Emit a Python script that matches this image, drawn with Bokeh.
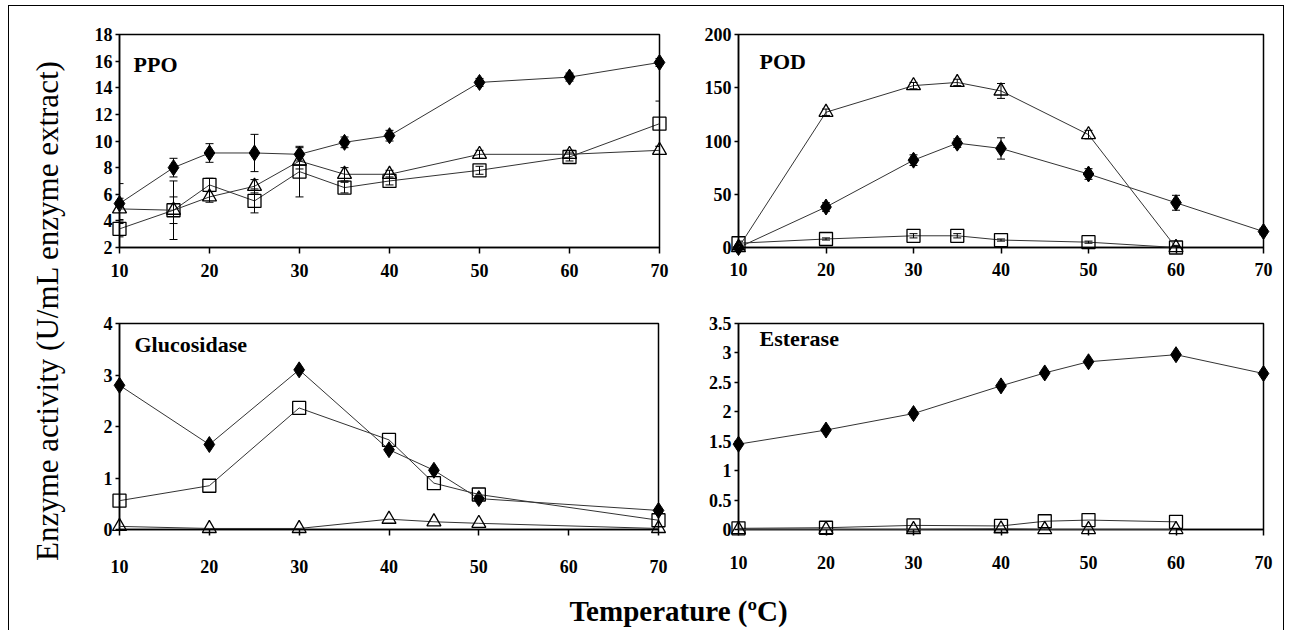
from bokeh.plotting import figure
from bokeh.models import Range1d, FixedTicker, Label, Whisker, ColumnDataSource, TeeHead
from bokeh.layouts import row, column
from bokeh.embed import file_html
from bokeh.resources import INLINE

# ---------------- data ----------------
x_ticks = [10, 20, 30, 40, 50, 60, 70]
x_tick_labels = ["10", "20", "30", "40", "50", "60", "70"]

# PPO
ppo_temp = [10, 16, 20, 25, 30, 35, 40, 50, 60, 70]
ppo_diamond = [5.3, 8.0, 9.1, 9.1, 9.0, 9.9, 10.4, 14.4, 14.8, 15.9]
ppo_diamond_err = [1.5, 0.7, 0.7, 1.4, 0.5, 0.4, 0.4, 0.3, 0.3, 0.3]
ppo_square = [3.4, 4.8, 6.7, 5.5, 7.7, 6.5, 7.0, 7.8, 8.8, 11.3]
ppo_square_err = [0.6, 2.2, 0.5, 0.9, 1.9, 0.4, 0.3, 0.3, 0.3, 1.7]
ppo_triangle = [4.9, 4.8, 5.8, 6.6, 8.5, 7.5, 7.5, 9.0, 9.0, 9.3]
ppo_triangle_err = [0.8, 1.0, 0.4, 0.5, 0.6, 0.5, 0.3, 0.3, 0.3, 0.3]
ppo_yticks = [2, 4, 6, 8, 10, 12, 14, 16, 18]
ppo_ylabels = ["2", "4", "6", "8", "10", "12", "14", "16", "18"]

# POD
pod_temp_d = [10, 20, 30, 35, 40, 50, 60, 70]
pod_diamond = [0, 38, 82, 98, 93, 69, 42, 15]
pod_diamond_err = [3, 4, 5, 4, 10, 5, 7, 3]
pod_temp_o = [10, 20, 30, 35, 40, 50, 60]
pod_square = [4, 8, 11, 11, 7, 5, 0]
pod_square_err = [2, 1, 2, 2, 1, 1, 1]
pod_triangle = [0, 127, 152, 155, 147, 106, 0]
pod_triangle_err = [2, 3, 3, 3, 7, 4, 2]
pod_yticks = [0, 50, 100, 150, 200]
pod_ylabels = ["0", "50", "100", "150", "200"]

# Glucosidase
glu_temp = [10, 20, 30, 40, 45, 50, 70]
glu_diamond = [2.8, 1.65, 3.1, 1.55, 1.15, 0.6, 0.37]
glu_square = [0.56, 0.85, 2.36, 1.74, 0.9, 0.68, 0.18]
glu_triangle = [0.06, 0.02, 0.02, 0.2, 0.15, 0.12, 0.02]
glu_yticks = [0, 1, 2, 3, 4]
glu_ylabels = ["0", "1", "2", "3", "4"]

# Esterase
est_temp_d = [10, 20, 30, 40, 45, 50, 60, 70]
est_diamond = [1.45, 1.69, 1.97, 2.44, 2.66, 2.85, 2.97, 2.65]
est_temp_o = [10, 20, 30, 40, 45, 50, 60]
est_square = [0.02, 0.03, 0.07, 0.06, 0.14, 0.16, 0.13]
est_triangle = [0.0, 0.0, 0.0, 0.01, 0.0, 0.0, 0.0]
est_yticks = [0, 0.5, 1, 1.5, 2, 2.5, 3, 3.5]
est_ylabels = ["0", "0.5", "1", "1.5", "2", "2.5", "3", "3.5"]

FONT = "Liberation Serif"
LINE_COLOR = "#333333"


def make_panel(width, height, borders, yrange, yticks, ylabels, name, name_pos, xstandoff):
    left, right, top, bottom = borders
    p = figure(width=width, height=height, output_backend="svg", toolbar_location=None,
               x_range=Range1d(10, 70), y_range=Range1d(*yrange),
               min_border_left=left, min_border_right=right,
               min_border_top=top, min_border_bottom=bottom,
               background_fill_color="white", border_fill_color="white")
    p.grid.visible = False
    p.outline_line_color = "black"
    p.outline_line_width = 1.5
    for ax in (p.xaxis[0], p.yaxis[0]):
        ax.axis_line_color = "black"
        ax.axis_line_width = 1.5
        ax.major_tick_line_color = "black"
        ax.major_tick_line_width = 1.5
        ax.minor_tick_line_color = None
        ax.major_tick_in = 0
        ax.major_label_text_font = FONT
        ax.major_label_text_font_style = "bold"
        ax.major_label_text_font_size = "18px"
        ax.major_label_text_color = "black"
    p.xaxis[0].ticker = FixedTicker(ticks=x_ticks)
    p.xaxis[0].major_label_overrides = {t: l for t, l in zip(x_ticks, x_tick_labels)}
    p.xaxis[0].major_tick_out = 6
    p.xaxis[0].major_label_standoff = xstandoff
    p.yaxis[0].ticker = FixedTicker(ticks=yticks)
    p.yaxis[0].major_label_overrides = {t: l for t, l in zip(yticks, ylabels)}
    p.yaxis[0].major_tick_out = 4
    p.yaxis[0].major_label_standoff = 3
    frame_h = height - top - bottom
    p.add_layout(Label(x=name_pos[0], y=frame_h - name_pos[1], x_units="screen", y_units="screen",
                       text=name, text_font=FONT, text_font_style="bold", text_font_size="22px",
                       text_baseline="middle", text_align="left", text_color="black"))
    return p


def add_series(p, x, y, kind, err=None):
    p.line(x, y, line_color=LINE_COLOR, line_width=1, level="overlay")
    if err is not None:
        src = ColumnDataSource(dict(x=x, upper=[a + b for a, b in zip(y, err)],
                                    lower=[a - b for a, b in zip(y, err)]))
        w = Whisker(base="x", upper="upper", lower="lower", source=src, dimension="height",
                    line_color="black", line_width=1, level="overlay",
                    upper_head=TeeHead(size=8, line_color="black", line_width=1),
                    lower_head=TeeHead(size=8, line_color="black", line_width=1))
        p.add_layout(w)
    if kind == "diamond":
        p.scatter(x, y, marker="diamond", size=16, fill_color="black", line_color="black", level="overlay")
    elif kind == "square":
        p.scatter(x, y, marker="square", size=13, fill_alpha=0, line_color="black", line_width=1.3, level="overlay")
    else:
        p.scatter(x, y, marker="triangle", size=14, fill_alpha=0, line_color="black", line_width=1.3, level="overlay")


# top row: height 284 ; bottom row: height 290
p1 = make_panel(620, 284, (49, 31, 28, 43), (2, 18), ppo_yticks, ppo_ylabels, "PPO", (14, 30), 10)
add_series(p1, ppo_temp, ppo_diamond, "diamond", ppo_diamond_err)
add_series(p1, ppo_temp, ppo_square, "square", ppo_square_err)
add_series(p1, ppo_temp, ppo_triangle, "triangle", ppo_triangle_err)

p2 = make_panel(593, 284, (48, 20, 28, 40), (0, 200), pod_yticks, pod_ylabels, "POD", (21, 30), 9)
add_series(p2, pod_temp_d, pod_diamond, "diamond", pod_diamond_err)
add_series(p2, pod_temp_o, pod_square, "square", pod_square_err)
add_series(p2, pod_temp_o, pod_triangle, "triangle", pod_triangle_err)

p3 = make_panel(620, 290, (49, 32, 33, 51), (0, 4), glu_yticks, glu_ylabels, "Glucosidase", (15, 21), 24)
add_series(p3, glu_temp, glu_diamond, "diamond")
add_series(p3, glu_temp, glu_square, "square")
add_series(p3, glu_temp, glu_triangle, "triangle")

p4 = make_panel(593, 290, (48, 20, 31, 45), (0, 3.5), est_yticks, est_ylabels, "Esterase", (21, 23), 20)
add_series(p4, est_temp_d, est_diamond, "diamond")
add_series(p4, est_temp_o, est_square, "square")
add_series(p4, est_temp_o, est_triangle, "triangle")

# shared axis titles
ylab = figure(width=61, height=624, output_backend="svg", toolbar_location=None,
              x_range=Range1d(0, 1), y_range=Range1d(0, 1), min_border=0,
              x_axis_location=None, y_axis_location=None, outline_line_color=None)
ylab.grid.visible = False
ylab.add_layout(Label(x=38, y=320, x_units="screen", y_units="screen", angle=90, angle_units="deg",
                      text="Enzyme activity (U/mL enzyme extract)", text_font=FONT,
                      text_font_size="31px", text_align="center", text_baseline="middle",
                      text_color="black"))

xlab = figure(width=1213, height=50, output_backend="svg", toolbar_location=None,
              x_range=Range1d(0, 1), y_range=Range1d(0, 1), min_border=0,
              x_axis_location=None, y_axis_location=None, outline_line_color=None)
xlab.grid.visible = False
xlab.add_layout(Label(x=608, y=20, x_units="screen", y_units="screen",
                      text="Temperature (ºC)", text_font=FONT, text_font_size="29px",
                      text_font_style="bold",
                      text_align="center", text_baseline="middle", text_color="black"))

layout = row(ylab, column(row(p1, p2), row(p3, p4), xlab),
             styles={"margin-left": "8px", "margin-top": "5px",
                     "border-left": "1px solid black", "border-top": "1px solid black",
                     "border-right": "1px solid black"})

open("out.html", "w").write(file_html(layout, INLINE))
